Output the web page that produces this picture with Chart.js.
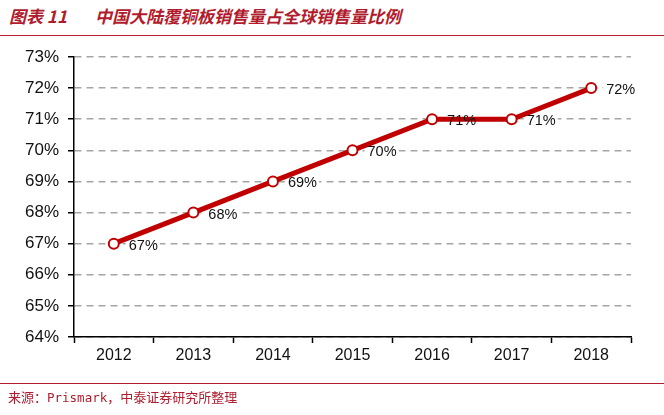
<!DOCTYPE html>
<html lang="zh">
<head>
  <meta charset="UTF-8">
  <title>中国大陆覆铜板销售量占全球销售量比例</title>
  <style>
    body {
      margin: 0;
      background: #fff;
    }
    #wrap {
      position: relative;
      width: 664px;
      height: 415px;
      overflow: hidden;
    }
    .title {
      position: absolute;
      left: 9px;
      top: 3px;
      font-family: "Noto Sans CJK SC", sans-serif;
      font-size: 17px;
      font-weight: bold;
      font-style: italic;
      color: #b01c2e;
      white-space: nowrap;
    }
    .title .gap {
      display: inline-block;
      width: 28px;
    }
    .rule {
      position: absolute;
      left: 0;
      width: 664px;
      height: 0;
      border-top: 1.5px solid #b01c2e;
    }
    .source {
      position: absolute;
      left: 8px;
      top: 387px;
      font-family: "Noto Sans CJK SC", sans-serif;
      font-size: 13px;
      color: #b01c2e;
      white-space: nowrap;
    }
    .source .mono {
      font-family: "DejaVu Sans Mono", monospace;
      font-size: 12.5px;
    }
    #chartBox {
      position: absolute;
      left: 0;
      top: 0;
      width: 664px;
      height: 415px;
    }
  </style>
</head>
<body>
  <div id="wrap">
    <div class="title">图表 11<span class="gap"></span>中国大陆覆铜板销售量占全球销售量比例</div>
    <div class="rule" style="top:35px"></div>
    <div id="chartBox"><canvas id="lineChart"></canvas></div>
    <div class="rule" style="top:383px"></div>
    <div class="source">来源：<span class="mono">Prismark</span>，中泰证券研究所整理</div>
  </div>

  <script src="https://cdn.jsdelivr.net/npm/chart.js"></script>
  <script>
    const years = ['2012', '2013', '2014', '2015', '2016', '2017', '2018'];
    const sharePct = [67, 68, 69, 70, 71, 71, 72];
    const yMin = 64;
    const yMax = 73;

    const labelFont = '14.5px Arial, "Liberation Sans", sans-serif';

    function labelBoxes(chart) {
      const ctx = chart.ctx;
      ctx.font = labelFont;
      return chart.getDatasetMeta(0).data.map((pt, i) => {
        const txt = sharePct[i] + '%';
        return { txt, x: pt.x + 15, y: pt.y + 2, w: ctx.measureText(txt).width };
      });
    }

    // "67%" etc. to the right of each point; white patch hides the grid
    // but the red line still runs over it, text goes on top
    const pointLabels = {
      id: 'pointLabels',
      beforeDatasetsDraw(chart) {
        const ctx = chart.ctx;
        ctx.save();
        labelBoxes(chart).forEach(b => {
          ctx.fillStyle = '#fff';
          ctx.fillRect(b.x - 3, b.y - 7, b.w + 5, 14);
        });
        ctx.restore();
      },
      afterDatasetsDraw(chart) {
        const ctx = chart.ctx;
        ctx.save();
        ctx.textBaseline = 'middle';
        ctx.fillStyle = '#111';
        labelBoxes(chart).forEach(b => {
          ctx.font = labelFont;
          ctx.fillText(b.txt, b.x, b.y);
        });
        ctx.restore();
      }
    };

    new Chart(document.getElementById('lineChart'), {
      type: 'line',
      data: {
        labels: years,
        datasets: [{
          data: sharePct,
          borderColor: '#c00000',
          borderWidth: 5,
          pointRadius: 5,
          pointBorderWidth: 2,
          pointBackgroundColor: '#fff',
          pointBorderColor: '#c00000',
          tension: 0
        }]
      },
      options: {
        responsive: true,
        maintainAspectRatio: false,
        animation: false,
        layout: {
          padding: { top: 57, right: 33, bottom: 46, left: 0 }
        },
        plugins: {
          legend: { display: false },
          tooltip: { enabled: false }
        },
        scales: {
          x: {
            offset: true,
            afterFit: s => { s.height = 32; },
            grid: {
              offset: true,
              drawOnChartArea: false,
              drawTicks: true,
              tickLength: 6,
              tickColor: '#000',
              tickWidth: 1.5
            },
            border: { color: '#000', width: 1.5 },
            ticks: {
              color: '#111',
              padding: 3,
              font: { family: 'Arial, "Liberation Sans", sans-serif', size: 16 }
            }
          },
          y: {
            min: yMin,
            max: yMax,
            afterFit: s => { s.width = 74; },
            grid: {
              color: '#a6a6a6',
              lineWidth: 1.5,
              tickLength: 6,
              tickColor: '#000',
              tickWidth: 1.5
            },
            border: { color: '#000', width: 1.5, dash: [7, 5], dashOffset: 0 },
            ticks: {
              stepSize: 1,
              color: '#111',
              padding: 9,
              font: { family: 'Arial, "Liberation Sans", sans-serif', size: 17 },
              callback: v => v + '%'
            }
          }
        }
      },
      plugins: [pointLabels]
    });
  </script>
</body>
</html>
